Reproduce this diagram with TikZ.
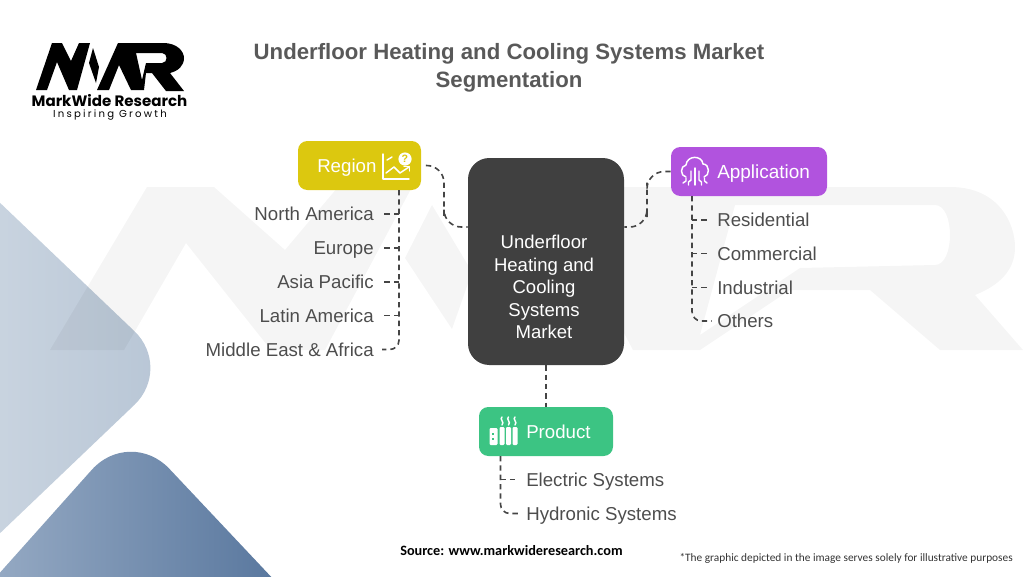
\documentclass[tikz,border=0pt]{standalone}
\usepackage{fontspec}
\setmainfont{Liberation Sans}
\newfontfamily\srcfont{Carlito}
\newfontfamily\logofont{Poppins}
\newfontfamily\logospaced[LetterSpace=22]{Poppins}
\usetikzlibrary{calc}
\definecolor{txt}{HTML}{4D4D4D}
\definecolor{ttl}{HTML}{595959}
\definecolor{dashc}{HTML}{454545}
\definecolor{regionc}{HTML}{DCC80F}
\definecolor{appc}{HTML}{B153DE}
\definecolor{prodc}{HTML}{3CC483}
\definecolor{midc}{HTML}{404040}
\definecolor{lightA}{HTML}{CDD7E2}
\definecolor{lightB}{HTML}{B7C5D5}
\definecolor{darkA}{HTML}{9DB0C8}
\definecolor{darkB}{HTML}{4F6F98}
\tikzset{
  x=0.75pt,y=-0.75pt,
  conn/.style={draw=dashc,line width=1.2pt,dash pattern=on 4pt off 3pt},
  catbox/.style={rounded corners=7pt,inner sep=0pt,minimum height=36.75pt},
  catlab/.style={text=white,font=\fontsize{14.2}{18}\selectfont,inner sep=0pt,text height=11pt,text depth=1pt},
  item/.style={text=txt,font=\fontsize{14}{18}\selectfont,inner sep=0pt,text height=11pt,text depth=1pt},
  icon/.style={draw=white,line width=1.1pt,line cap=round,line join=round},
  wm/.style={fill=black,fill opacity=0.04,draw=none,even odd rule},
}
\begin{document}
\begin{tikzpicture}
\useasboundingbox (0,0) rectangle (1024,576);
\clip (0,0) rectangle (1024,576);
% background shapes
\path[left color=lightA,right color=lightB,rounded corners=40pt]
  (-48,157) -- (173,368) -- (-48,579) -- cycle;
\path[left color=darkA,right color=darkB,rounded corners=43pt]
  (-45,623) -- (130,427) -- (325,634) -- cycle;
% watermark
\path[wm] (50,350) -- (124,350) -- (186,243) -- (271,350) -- (325,350) -- (412,187) -- (338,187) -- (285,250) -- (214,187) -- (147,187) -- cycle;
\path[wm] (432,205) -- (472,272) -- (452,329) -- (405,258) -- cycle;
\path[wm] (600,187) -- (950,187) .. controls (1000,187) and (1015,225) .. (1015,247)
  .. controls (1015,270) and (1000,285) .. (975,295) -- (1023,350) -- (940,350) -- (870,290) -- (790,290)
  -- (700,350) -- (633,350) -- (575,240) -- cycle
  (735,205) -- (935,205) .. controls (955,205) and (955,265) .. (935,265) -- (800,268) -- (700,335) -- cycle;
% logo
\fill[black] (36,90) -- (52,43) -- (62,43) -- (71,61) -- (79,43) -- (90,43) -- (77,90) -- (69,90) -- (57,62) -- (47,90) -- cycle;
\fill[black] (93,48) -- (99,67) -- (96,83) -- (89,63) -- cycle;
\fill[black,even odd rule] (97,90) -- (118,43) -- (163,43) .. controls (178,43) and (184,52) .. (184,58)
  .. controls (184,66) and (178,71) .. (170,73) -- (184,91) -- (166,91) -- (152,73) -- (146,73) -- (144,90)
  -- (131,90) -- (119,65) -- (109,90) -- cycle
  (136,53) -- (162,53) .. controls (168,53) and (168,63) .. (162,63) -- (146,63) -- (142,80) -- cycle;
\node[inner sep=0pt,font=\logofont\bfseries\fontsize{11.3}{13}\selectfont,text height=7pt,text depth=0pt] (brand) at (109.5,102) {MarkWide Research};
\node[inner sep=0pt,font=\logospaced\fontsize{7.6}{9}\selectfont,text height=5.5pt,text depth=1.5pt] (slogan) at (110,115) {Inspiring Growth};
% title
\node[inner sep=0pt,align=center,text=ttl,font=\bfseries\fontsize{16.65}{21}\selectfont] (title) at (509,67.5)
  {Underfloor Heating and Cooling Systems Market\\Segmentation};
% boxes
\node[catbox,fill=regionc,minimum width=92.25pt] (region) at (359.5,165.5) {};
\node[catbox,fill=appc,minimum width=117pt] (app) at (749,171.5) {};
\node[catbox,fill=prodc,minimum width=100.5pt] (prod) at (546,431.5) {};
\node[fill=midc,rounded corners=16pt,minimum width=117pt,minimum height=155.25pt,inner sep=0pt] (mid) at (546,261.5) {};
\node[inner sep=0pt,text=white,align=center,font=\fontsize{13.9}{16.9}\selectfont] (midl) at (544,287)
  {Underfloor\\Heating and\\Cooling\\Systems\\Market};
\node[catlab,anchor=west,font=\fontsize{14}{18}\selectfont] (regionl) at (317,166) {Region};
\node[catlab,anchor=west] (appl) at (717,172) {Application};
\node[catlab,anchor=west,font=\fontsize{14}{18}\selectfont] (prodl) at (526,432) {Product};
% connectors to the centre
\coordinate (cl) at ($(mid.west)+(0,-34.5)$);
\coordinate (cr) at ($(mid.east)+(0,-34.5)$);
\coordinate (lx) at (444,200);
\coordinate (rx) at (647,200);
\draw[conn,rounded corners=13pt] ([xshift=3.5pt]region.east) -| (lx) |- (cl);
\draw[conn,rounded corners=13pt] (app.west) -| (rx) |- (cr);
\draw[conn] (mid.south) -- (prod.north);
% region list
\node[item,anchor=east] (r1) at (374,214) {North America};
\node[item,anchor=east] (r2) at (374,248) {Europe};
\node[item,anchor=east] (r3) at (374,282) {Asia Pacific};
\node[item,anchor=east] (r4) at (374,315.5) {Latin America};
\node[item,anchor=east] (r5) at (374,349.5) {Middle East \& Africa};
\coordinate (rt) at (399,190);
\draw[conn,rounded corners=7pt] (rt) |- ([xshift=6pt]r5.east);
\draw[conn] (rt |- r1.east) -- ([xshift=6pt]r1.east);
\draw[conn] (rt |- r2.east) -- ([xshift=6pt]r2.east);
\draw[conn] (rt |- r3.east) -- ([xshift=6pt]r3.east);
\draw[conn] (rt |- r4.east) -- ([xshift=6pt]r4.east);
% application list
\node[item,anchor=west] (a1) at (717,220) {Residential};
\node[item,anchor=west] (a2) at (717,253.5) {Commercial};
\node[item,anchor=west] (a3) at (717,287.5) {Industrial};
\node[item,anchor=west] (a4) at (717,321) {Others};
\coordinate (at) at (692,196);
\draw[conn,rounded corners=7pt] (at) |- ([xshift=-4pt]a4.west);
\draw[conn] (at |- a1.west) -- ([xshift=-6pt]a1.west);
\draw[conn] (at |- a2.west) -- ([xshift=-6pt]a2.west);
\draw[conn] (at |- a3.west) -- ([xshift=-6pt]a3.west);
% product list
\node[item,anchor=west] (p1) at (526,479.5) {Electric Systems};
\node[item,anchor=west] (p2) at (526,513.5) {Hydronic Systems};
\coordinate (pt) at (500.5,456);
\draw[conn,rounded corners=7pt] (pt) |- ([xshift=-4pt]p2.west);
\draw[conn] (pt |- p1.west) -- ([xshift=-6pt]p1.west);
% region icon
\draw[icon] (383,154) -- (383,179) -- (409,179);
\draw[icon] (387,160) -- (392,157);
\draw[icon] (386,173) -- (394,167) -- (400,173) -- (409,167);
\draw[icon] (404,166.5) -- (409.5,166.5) -- (409.5,171);
\fill[white] (405,159) circle (6.6);
\node[inner sep=0pt,text=regionc,font=\bfseries\fontsize{8}{9}\selectfont] (qm) at (405,159) {?};
% application icon
\draw[icon] (686,177) .. controls (680,176) and (680,166) .. (686,165)
  .. controls (687,155) and (702,155) .. (703,164)
  .. controls (710,164) and (710,176) .. (704,177);
\draw[icon] (695,168) -- (695,185);
\draw[icon] (691,171) -- (691,180) -- (688.5,182) -- (688.5,185);
\draw[icon] (699,171) -- (699,180) -- (701.5,182) -- (701.5,185);
\draw[icon] (686,178) -- (686,181) -- (683,183);
\draw[icon] (704.5,178) -- (704.5,181) -- (707,183);
% product icon
\fill[white,rounded corners=0.8pt] (489.5,428) rectangle (497.5,445);
\fill[prodc] (492,433) rectangle (494,435);
\fill[prodc] (492,438) rectangle (494,440);
\fill[white,rounded corners=0.8pt] (499.5,427) rectangle (504.5,445);
\fill[white,rounded corners=0.8pt] (506,427) rectangle (511,445);
\fill[white,rounded corners=0.8pt] (512.5,427) rectangle (517.5,445);
\foreach \wx in {502,508.5,515}{
  \draw[icon] (\wx,417) .. controls (\wx-3,419) and (\wx+3,422) .. (\wx,425);
}
% footer
\node[inner sep=0pt,anchor=west,font=\srcfont\bfseries\fontsize{10.7}{12}\selectfont] (src) at (400,551) {Source: www.markwideresearch.com};
\node[inner sep=0pt,anchor=east,text=black!80,font=\srcfont\fontsize{8.5}{11}\selectfont] (note) at (1013,558) {*The graphic depicted in the image serves solely for illustrative purposes};
\end{tikzpicture}
\end{document}
